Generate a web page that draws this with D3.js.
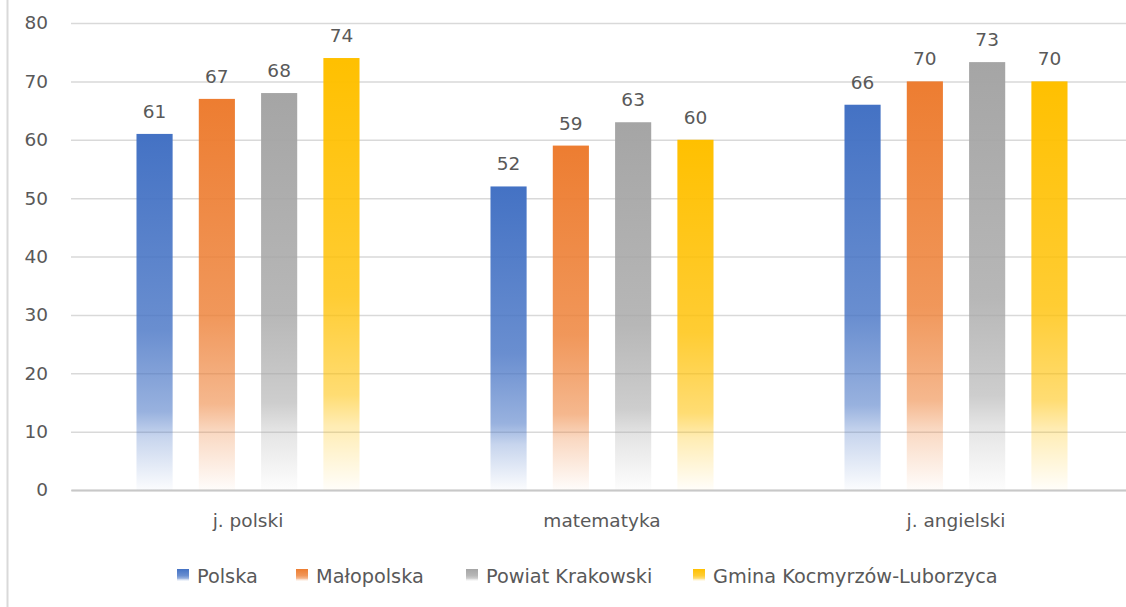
<!DOCTYPE html>
<html>
<head>
<meta charset="utf-8">
<script src="https://cdn.jsdelivr.net/npm/d3@7"></script>
<style>
  body { margin: 0; background: #fff; }
  text { font-family: "DejaVu Sans", sans-serif; fill: #595959; }
</style>
</head>
<body>
<script>
const categories = ["j. polski", "matematyka", "j. angielski"];
const series = ["Polska", "Małopolska", "Powiat Krakowski", "Gmina Kocmyrzów-Luborzyca"];
const colors = ["#4472C4", "#ED7D31", "#A5A5A5", "#FFC000"];
const values = {
  "Polska": [61, 52, 66],
  "Małopolska": [67, 59, 70],
  "Powiat Krakowski": [68, 63, 73.3],
  "Gmina Kocmyrzów-Luborzyca": [74, 60, 70]
};
const yTicks = [0, 10, 20, 30, 40, 50, 60, 70, 80];

const W = 1126, H = 607;
const FONT = "DejaVu Sans, sans-serif";
const svg = d3.select("body").append("svg")
    .attr("width", W)
    .attr("height", H);

// left frame edge
svg.append("line")
    .attr("x1", 7.5).attr("x2", 7.5)
    .attr("y1", 0).attr("y2", H)
    .attr("stroke", "#d9d9d9").attr("stroke-width", 2);

const x0 = d3.scaleBand().domain(categories).range([71, 1133])
    .paddingInner(0.37).paddingOuter(0.185);
const x1 = d3.scaleBand().domain(series).range([0, x0.bandwidth()])
    .paddingInner(0.42);
const y = d3.scaleLinear().domain([0, 80]).range([490, 23]);

// gradients
const defs = svg.append("defs");
series.forEach((s, i) => {
  const g = defs.append("linearGradient")
      .attr("id", "grad" + i)
      .attr("x1", 0).attr("x2", 0).attr("y1", 0).attr("y2", 1);
  g.append("stop").attr("offset", 0).attr("stop-color", colors[i]).attr("stop-opacity", 1);
  g.append("stop").attr("offset", 0.55).attr("stop-color", colors[i]).attr("stop-opacity", 0.8);
  g.append("stop").attr("offset", 0.78).attr("stop-color", colors[i]).attr("stop-opacity", 0.55);
  g.append("stop").attr("offset", 0.85).attr("stop-color", colors[i]).attr("stop-opacity", 0.3);
  g.append("stop").attr("offset", 1).attr("stop-color", colors[i]).attr("stop-opacity", 0.02);
});

// gridlines + y labels
const yAxis = svg.append("g")
    .attr("transform", "translate(71,0)")
    .call(d3.axisLeft(y).tickValues(yTicks).tickSize(-(1133 - 71)).tickPadding(23));
yAxis.select(".domain").remove();
yAxis.selectAll(".tick line").attr("stroke", "#d9d9d9").attr("stroke-width", 1.5);
yAxis.selectAll(".tick text").attr("font-size", 18.5).style("fill", "#595959")
    .style("font-family", FONT);

// x axis
const xAxis = svg.append("g")
    .attr("transform", "translate(0,490)")
    .call(d3.axisBottom(x0).tickSize(0).tickPadding(0));
xAxis.select(".domain").attr("stroke", "#c8c8c8").attr("stroke-width", 2);
xAxis.selectAll(".tick text").attr("font-size", 18.5).style("fill", "#595959")
    .style("font-family", FONT)
    .attr("dy", null).attr("y", 37);

// bars
const rows = [];
categories.forEach((c, ci) => series.forEach((s, si) => rows.push({c, s, si, v: values[s][ci]})));

svg.append("g").selectAll("rect")
    .data(rows)
    .join("rect")
    .attr("x", d => x0(d.c) + x1(d.s))
    .attr("y", d => y(d.v))
    .attr("width", x1.bandwidth())
    .attr("height", d => y(0) - y(d.v))
    .attr("fill", d => `url(#grad${d.si})`);

// data labels
svg.append("g").selectAll("text")
    .data(rows)
    .join("text")
    .attr("x", d => x0(d.c) + x1(d.s) + x1.bandwidth() / 2)
    .attr("y", d => y(d.v) - 16)
    .attr("text-anchor", "middle")
    .attr("font-size", 18.5)
    .text(d => d3.format(".0f")(d.v));

// legend
const legendX = [177, 296, 466, 693];
const lg = svg.append("g").selectAll("g")
    .data(series)
    .join("g")
    .attr("transform", (d, i) => `translate(${legendX[i]},575)`);
lg.append("rect")
    .attr("x", 0).attr("y", -6)
    .attr("width", 12).attr("height", 12)
    .attr("fill", (d, i) => `url(#grad${i})`);
lg.append("text")
    .attr("x", 20).attr("y", 8)
    .attr("font-size", 19.3)
    .text(d => d);
</script>
</body>
</html>
